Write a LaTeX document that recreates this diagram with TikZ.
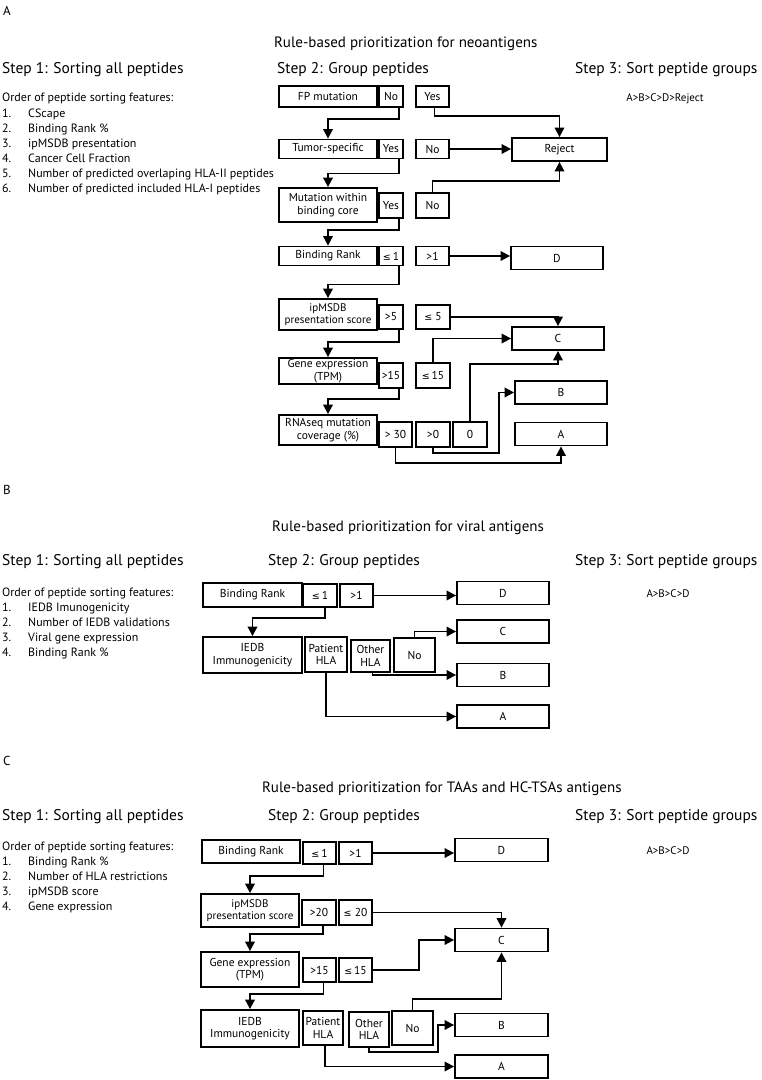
\documentclass[tikz,border=0pt]{standalone}
\usepackage{fontspec}
\setmainfont{PT Sans}
\newfontfamily\symfont{DejaVu Sans}
\usetikzlibrary{arrows.meta}
\newcommand{\lesign}{{\symfont\fontsize{9.5}{10}\selectfont ≤}}
\newcommand{\featno}[1]{\makebox[26pt][l]{#1}}
\tikzstyle{crit} = [draw=black, line width=1.8pt, inner sep=0, align=center, font=\fontsize{11.5}{12.5}\selectfont]
\tikzstyle{group} = [crit, minimum width=92, minimum height=23]
\tikzstyle{link} = [line width=1.8pt, -{Triangle[length=9.5pt, width=9.5pt]}]
\tikzstyle{heading} = [anchor=base west, inner sep=0, font=\fontsize{15.5}{18}\selectfont]
\tikzstyle{listitem} = [anchor=base west, inner sep=0, font=\fontsize{12}{13}\selectfont]
\tikzstyle{panel} = [anchor=base west, inner sep=0, font=\fontsize{13}{15}\selectfont]
\tikzstyle{ranking} = [anchor=base, inner sep=0, font=\fontsize{11}{12}\selectfont]

\begin{document}
\begin{tikzpicture}[x=1pt, y=-1pt]
	\fill [white] (0,0) rectangle (762,1080);
	\useasboundingbox (0,0) rectangle (762,1080);

	% panel A: neoantigens
	\node (LetterA) [panel] at (3,15) {A};
	\node (TitleA) [heading, font=\fontsize{15}{18}\selectfont] at (274,47.5) {Rule-based prioritization for neoantigens};
	\node (StepA1) [heading] at (2,73.5) {Step 1: Sorting all peptides};
	\node (StepA2) [heading] at (277,73.5) {Step 2: Group peptides};
	\node (StepA3) [heading] at (575,73.5) {Step 3: Sort peptide groups};

	\node (OrderA) [listitem] at (2,101) {Order of peptide sorting features:};
	\node (FeatA1) [listitem] at (2,117) {\featno{1.}CScape};
	\node (FeatA2) [listitem] at (2,132) {\featno{2.}Binding Rank \%};
	\node (FeatA3) [listitem] at (2,147) {\featno{3.}ipMSDB presentation};
	\node (FeatA4) [listitem] at (2,162) {\featno{4.}Cancer Cell Fraction};
	\node (FeatA5) [listitem] at (2,177) {\featno{5.}Number of predicted overlaping HLA-II peptides};
	\node (FeatA6) [listitem] at (2,192) {\featno{6.}Number of predicted included HLA-I peptides};

	\node (RankA) [ranking] at (665,101) {A>B>C>D>Reject};

	% FP mutation
	\node (FP) [crit, minimum width=98, minimum height=21] at (328,96.5) {FP mutation};
	\node (FPNo) [crit, minimum width=24, minimum height=21] at (391,96.5) {No};
	\node (FPYes) [crit, minimum width=33, minimum height=21] at (432.5,96.5) {Yes};
	\node (Reject) [group, minimum width=95] at (559.5,149.5) {Reject};
	\draw [link] ([xshift=2pt]FPYes.south) -- ++(0,8) -| (Reject.north);

	% tumor specific
	\node (Tumor) [crit, minimum width=98, minimum height=19] at (328,149) {Tumor-specific};
	\node (TuYes) [crit, minimum width=24, minimum height=19] at (391,149) {Yes};
	\node (TuNo) [crit, minimum width=33, minimum height=19] at (432.5,149) {No};
	\draw [link] ([xshift=8pt]FPNo.south) -- ++(0,11) -| (Tumor.north);
	\draw [link] (TuNo.east) -- (TuNo.east -| Reject.west);

	% binding core
	\node (Core) [crit, minimum width=98, minimum height=34] at (328,205) {Mutation within\\binding core};
	\node (CoreYes) [crit, minimum width=24, minimum height=25] at (391,205.5) {Yes};
	\node (CoreNo) [crit, minimum width=33, minimum height=25] at (432.5,205.5) {No};
	\draw [link] ([xshift=8pt]TuYes.south) -- ++(0,14) -| (Core.north);
	\draw [link] (CoreNo.north) -- ++(0,-11) -| (Reject.south);

	% binding rank
	\node (Rank) [crit, minimum width=98, minimum height=19] at (328,256) {Binding Rank};
	\node (RankLe) [crit, minimum width=24, minimum height=19] at (391,256) {\lesign\,1};
	\node (RankGt) [crit, minimum width=33, minimum height=19] at (432.5,256) {>1};
	\node (D) [group] at (557,258) {D};
	\draw [link] ([xshift=8pt]CoreYes.south) -- ++(0,11) -| (Rank.north);
	\draw [link] (RankGt.east) -- (RankGt.east -| D.west);

	% presentation score
	\node (Pres) [crit, minimum width=98, minimum height=31, font=\fontsize{11}{12.5}\selectfont] at (328,314.5) {ipMSDB\\presentation score};
	\node (PresGt) [crit, minimum width=24, minimum height=24] at (391,317) {>5};
	\node (PresLe) [crit, minimum width=34, minimum height=24] at (433,317) {\lesign\ 5};
	\node (C) [group] at (558,338.5) {C};
	\draw [link] ([xshift=8pt]RankLe.south) -- ++(0,18) -| (Pres.north);
	\draw [link] (PresLe.east) -| (C.north);

	% gene expression
	\node (Expr) [crit, minimum width=98, minimum height=26] at (328,371) {Gene expression\\(TPM)};
	\node (ExprGt) [crit, minimum width=24, minimum height=25] at (391,375.5) {>15};
	\node (ExprLe) [crit, minimum width=34, minimum height=25] at (433,375.5) {\lesign\,15};
	\draw [link] ([xshift=8pt]PresGt.south) -- ++(0,12) -| (Expr.north);
	\draw [link] (ExprLe.north) |- (C.west);

	% mutation coverage
	\node (Cov) [crit, minimum width=98, minimum height=30] at (328,430) {RNAseq mutation\\coverage (\%)};
	\node (CovHigh) [crit, minimum width=33, minimum height=25] at (395.5,434.5) {> 30};
	\node (CovLow) [crit, minimum width=34, minimum height=25] at (433,434.5) {>0};
	\node (CovZero) [crit, minimum width=34, minimum height=25] at (470,434.5) {0};
	\node (B) [group] at (561,392.5) {B};
	\node (A) [group] at (561,434) {A};
	\draw [link] ([xshift=8pt]ExprGt.south) -- ++(0,10) -| (Cov.north);
	\draw [link] (CovZero.north) -- ++(0,-57) -| (C.south);
	\draw [link] (CovLow.south) -- ++(0,5) -- ++(66,0) |- (B.west);
	\draw [link] (CovHigh.south) -- ++(0,15) -| (A.south);

	% panel B: viral antigens
	\node (LetterB) [panel] at (3,494) {B};
	\node (TitleB) [heading, font=\fontsize{15}{18}\selectfont] at (272,531.5) {Rule-based prioritization for viral antigens};
	\node (StepB1) [heading] at (2,565.5) {Step 1: Sorting all peptides};
	\node (StepB2) [heading] at (268,565.5) {Step 2: Group peptides};
	\node (StepB3) [heading] at (575,565.5) {Step 3: Sort peptide groups};

	\node (OrderB) [listitem] at (2,596) {Order of peptide sorting features:};
	\node (FeatB1) [listitem] at (2,611) {\featno{1.}IEDB Imunogenicity};
	\node (FeatB2) [listitem] at (2,626) {\featno{2.}Number of IEDB validations};
	\node (FeatB3) [listitem] at (2,641) {\featno{3.}Viral gene expression};
	\node (FeatB4) [listitem] at (2,656) {\featno{4.}Binding Rank \%};

	\node (RankB) [ranking] at (668,597) {A>B>C>D};

	\node (VirRank) [crit, minimum width=99, minimum height=24] at (252.5,595) {Binding Rank};
	\node (VirRankLe) [crit, minimum width=34, minimum height=23] at (320,595.5) {\lesign\,1};
	\node (VirRankGt) [crit, minimum width=33, minimum height=23] at (356.5,595.5) {>1};
	\node (VirD) [group] at (503,593) {D};
	\draw [link] (VirRankGt.east) -- (VirRankGt.east -| VirD.west);

	\node (VirIedb) [crit, minimum width=99, minimum height=36] at (252.5,655) {IEDB\\Immunogenicity};
	\node (VirPat) [crit, minimum width=42, minimum height=35] at (326,654.5) {Patient\\HLA};
	\node (VirOther) [crit, minimum width=39, minimum height=32] at (370.5,656) {Other\\HLA};
	\node (VirNo) [crit, minimum width=41, minimum height=34] at (414.5,655) {No};
	\node (VirC) [group] at (503,631.5) {C};
	\node (VirB) [group] at (503,675) {B};
	\node (VirA) [group] at (503,716.5) {A};
	\draw [link] ([xshift=5pt]VirRankLe.south) -- ++(0,10) -| (VirIedb.north);
	\draw [link] (VirNo.north) |- (VirC.west);
	\draw [link] ([xshift=2pt]VirOther.south) |- (VirB.west);
	\draw [link] (VirPat.south) |- (VirA.west);

	% panel C: TAAs and HC-TSAs
	\node (LetterC) [panel] at (3,765) {C};
	\node (TitleC) [heading, font=\fontsize{15}{18}\selectfont] at (262,792.5) {Rule-based prioritization for TAAs and HC-TSAs antigens};
	\node (StepC1) [heading] at (2,820.5) {Step 1: Sorting all peptides};
	\node (StepC2) [heading] at (268,820.5) {Step 2: Group peptides};
	\node (StepC3) [heading] at (575,820.5) {Step 3: Sort peptide groups};

	\node (OrderC) [listitem] at (2,850) {Order of peptide sorting features:};
	\node (FeatC1) [listitem] at (2,865) {\featno{1.}Binding Rank \%};
	\node (FeatC2) [listitem] at (2,880) {\featno{2.}Number of HLA restrictions};
	\node (FeatC3) [listitem] at (2,895) {\featno{3.}ipMSDB score};
	\node (FeatC4) [listitem] at (2,910) {\featno{4.}Gene expression};

	\node (RankC) [ranking] at (668,854) {A>B>C>D};

	\node (TaaRank) [crit, minimum width=98, minimum height=23] at (251,851.5) {Binding Rank};
	\node (TaaRankLe) [crit, minimum width=33, minimum height=22] at (319.5,853) {\lesign\,1};
	\node (TaaRankGt) [crit, minimum width=33, minimum height=22] at (355.5,853) {>1};
	\node (TaaD) [group, minimum width=93] at (501.5,850) {D};
	\draw [link] (TaaRankGt.east) -- (TaaRankGt.east -| TaaD.west);

	\node (TaaPres) [crit, minimum width=98, minimum height=33, font=\fontsize{11}{12.5}\selectfont] at (250,910.5) {ipMSDB\\presentation score};
	\node (TaaPresGt) [crit, minimum width=34, minimum height=25] at (319,912.5) {>20};
	\node (TaaPresLe) [crit, minimum width=33, minimum height=25] at (355.5,912.5) {\lesign\ 20};
	\node (TaaC) [group, minimum width=93] at (501.5,940) {C};
	\draw [link] ([xshift=4pt]TaaRankLe.south) -- ++(0,11) -| (TaaPres.north);
	\draw [link] (TaaPresLe.east) -| (TaaC.north);

	\node (TaaExpr) [crit, minimum width=98, minimum height=35] at (250,969.5) {Gene expression\\(TPM)};
	\node (TaaExprGt) [crit, minimum width=33, minimum height=24] at (319.5,970) {>15};
	\node (TaaExprLe) [crit, minimum width=33, minimum height=24] at (355.5,970) {\lesign\,15};
	\draw [link] ([xshift=4pt]TaaPresGt.south) -- ++(0,8) -| (TaaExpr.north);
	\draw [link] (TaaExprLe.east) -- ++(46,0) |- (TaaC.west);

	\node (TaaIedb) [crit, minimum width=98, minimum height=37] at (250,1028.5) {IEDB\\Immunogenicity};
	\node (TaaPat) [crit, minimum width=40, minimum height=34] at (323,1028) {Patient\\HLA};
	\node (TaaOther) [crit, minimum width=40, minimum height=35] at (369,1029.5) {Other\\HLA};
	\node (TaaNo) [crit, minimum width=41, minimum height=34] at (412.5,1028) {No};
	\node (TaaB) [group, minimum width=93] at (501.5,1025) {B};
	\node (TaaA) [group, minimum width=93] at (501.5,1066.5) {A};
	\draw [link] ([xshift=4pt]TaaExprGt.south) -- ++(0,11) -| (TaaIedb.north);
	\draw [link] (TaaNo.north) -- ++(0,-11) -| (TaaC.south);
	\draw [link] (TaaOther.south) -- ++(0,4) -- ++(69,0) |- (TaaB.west);
	\draw [link] ([xshift=2pt]TaaPat.south) |- (TaaA.west);
\end{tikzpicture}
\end{document}
